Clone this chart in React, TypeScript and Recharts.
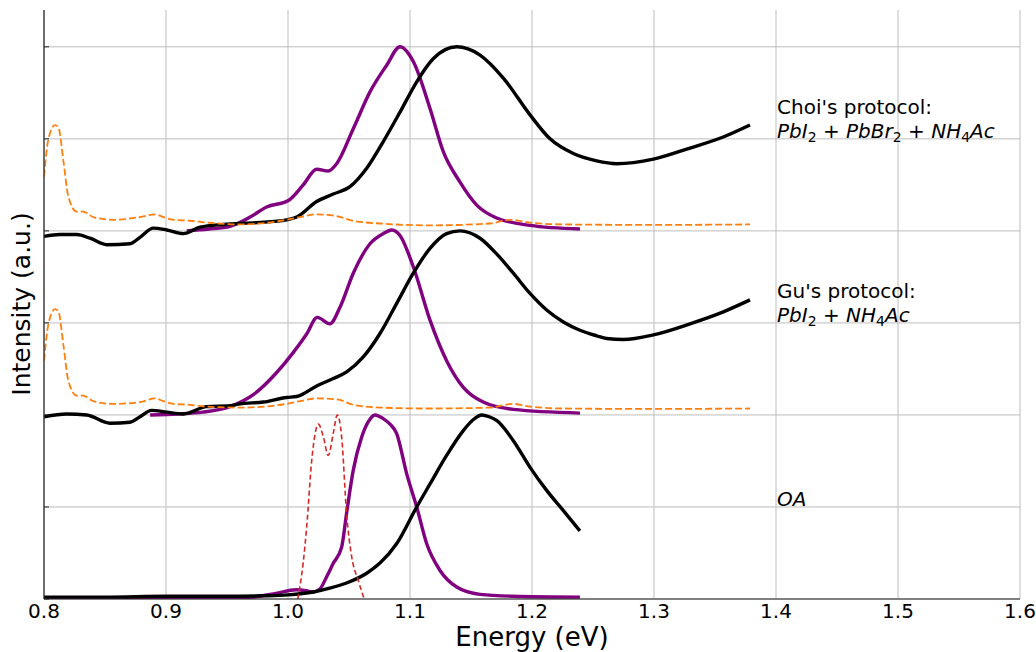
import React from 'react';
import { LineChart, Line, XAxis, YAxis, CartesianGrid } from 'recharts';

const X_TICKS = [0.8, 0.9, 1.0, 1.1, 1.2, 1.3, 1.4, 1.5, 1.6];
const Y_TICKS = [0, 1, 2, 3, 4, 5, 6];

// OA sample (offset 0)
const OA_ABS: [number, number][] = [
  [0.8, 0.02], [0.85, 0.02], [0.9, 0.03], [0.95, 0.03], [0.98, 0.035], [1.0, 0.045],
  [1.0207, 0.076], [1.035, 0.12], [1.048, 0.174], [1.0645, 0.28], [1.0754, 0.39],
  [1.089, 0.6], [1.1055, 1.0], [1.1164, 1.25], [1.13, 1.56], [1.1437, 1.83],
  [1.152, 1.95], [1.1588, 2.0], [1.165, 1.98], [1.171, 1.94], [1.1847, 1.72],
  [1.1984, 1.43], [1.212, 1.18], [1.2257, 0.96], [1.2393, 0.74],
];
const OA_PL: [number, number][] = [
  [0.8, 0.0], [0.9, 0.005], [0.95, 0.01], [0.97, 0.02], [0.99, 0.06], [1.0066, 0.1],
  [1.015, 0.09], [1.0207, 0.076], [1.0262, 0.11], [1.032, 0.25], [1.037, 0.385],
  [1.044, 0.565], [1.048, 0.93], [1.0535, 1.4], [1.0604, 1.76], [1.066, 1.93],
  [1.0713, 2.0], [1.078, 1.96], [1.0836, 1.9], [1.089, 1.8], [1.0973, 1.36],
  [1.1055, 1.0], [1.1137, 0.6], [1.1246, 0.31], [1.1383, 0.13], [1.1574, 0.05],
  [1.1844, 0.03], [1.2393, 0.02],
];
const OA_RED: [number, number][] = [
  [1.008, 0], [1.0125, 0.4], [1.0153, 0.78], [1.0194, 1.5], [1.0249, 1.9], [1.029, 1.76],
  [1.033, 1.56], [1.0371, 1.8], [1.0404, 2.0], [1.044, 1.76], [1.048, 0.93],
  [1.0522, 0.46], [1.0576, 0.2], [1.0625, 0],
];

// Gu's protocol (offset 2)
const GU_ABS: [number, number][] = [
  [0.8, 1.98], [0.8186, 2.01], [0.835, 2.0], [0.8541, 1.91], [0.8705, 1.92], [0.8787, 1.98],
  [0.8883, 2.05], [0.9006, 2.03], [0.9142, 2.01], [0.9333, 2.09], [0.9525, 2.1],
  [0.9607, 2.12], [0.9798, 2.14], [0.9989, 2.19], [1.0071, 2.2], [1.0235, 2.315],
  [1.0371, 2.395], [1.0481, 2.467], [1.0617, 2.63], [1.0754, 2.885], [1.089, 3.21],
  [1.1027, 3.54], [1.1164, 3.81], [1.13, 3.97], [1.141, 4.0], [1.1574, 3.92],
  [1.171, 3.75], [1.1847, 3.54], [1.1984, 3.32], [1.212, 3.14], [1.2257, 3.01],
  [1.2393, 2.92], [1.253, 2.86], [1.2612, 2.83], [1.2748, 2.82], [1.2995, 2.87],
  [1.3295, 2.99], [1.3568, 3.12], [1.3787, 3.25],
];
const GU_PL: [number, number][] = [
  [0.887, 2.0], [0.91, 2.01], [0.93, 2.03], [0.9525, 2.09], [0.9716, 2.22], [0.99, 2.45],
  [1.0044, 2.68], [1.0153, 2.88], [1.024, 3.06], [1.0344, 2.99], [1.0426, 3.17],
  [1.0535, 3.54], [1.0672, 3.86], [1.078, 3.97], [1.085, 4.01], [1.0918, 3.95],
  [1.1027, 3.61], [1.1164, 3.03], [1.13, 2.59], [1.1437, 2.3], [1.16, 2.14],
  [1.1847, 2.06], [1.2393, 2.02],
];
const GU_ORANGE: [number, number][] = [
  [0.8, 2.59], [0.8035, 2.98], [0.809, 3.15], [0.8117, 3.13], [0.8158, 2.77], [0.82, 2.37],
  [0.8268, 2.21], [0.8322, 2.21], [0.8404, 2.15], [0.8568, 2.12], [0.8787, 2.14],
  [0.891, 2.18], [0.8978, 2.15], [0.906, 2.12], [0.9197, 2.11], [0.9334, 2.09],
  [0.9607, 2.08], [0.9989, 2.12], [1.0098, 2.15], [1.0235, 2.18], [1.04, 2.17],
  [1.0535, 2.11], [1.0754, 2.08], [1.1164, 2.07], [1.1656, 2.08], [1.1847, 2.12],
  [1.1984, 2.09], [1.2257, 2.07], [1.3, 2.065], [1.3787, 2.07],
];

// Choi's protocol (offset 4)
const CHOI_ABS: [number, number][] = [
  [0.8, 3.94], [0.8131, 3.96], [0.8268, 3.96], [0.8377, 3.92], [0.8514, 3.85], [0.8705, 3.86],
  [0.8787, 3.93], [0.8896, 4.03], [0.9006, 4.01], [0.9142, 3.97], [0.9279, 4.04],
  [0.947, 4.07], [0.9743, 4.09], [0.9989, 4.12], [1.0071, 4.15], [1.0235, 4.32],
  [1.0371, 4.4], [1.0508, 4.48], [1.0645, 4.68], [1.0781, 4.97], [1.0918, 5.29],
  [1.1055, 5.62], [1.119, 5.87], [1.1383, 6.0], [1.1574, 5.91], [1.1765, 5.66],
  [1.1984, 5.26], [1.2148, 5.0], [1.2339, 4.84], [1.253, 4.76], [1.2694, 4.73],
  [1.2995, 4.78], [1.3295, 4.9], [1.3568, 5.02], [1.3787, 5.15],
];
const CHOI_PL: [number, number][] = [
  [0.917, 4.0], [0.935, 4.02], [0.9525, 4.05], [0.9689, 4.15], [0.9825, 4.26], [1.0003, 4.33],
  [1.0125, 4.5], [1.0235, 4.67], [1.033, 4.65], [1.0399, 4.73], [1.0535, 5.11],
  [1.0672, 5.51], [1.0809, 5.8], [1.0918, 6.0], [1.1027, 5.84], [1.1164, 5.33],
  [1.1273, 4.86], [1.141, 4.53], [1.1547, 4.28], [1.171, 4.14], [1.1984, 4.06],
  [1.2393, 4.02],
];
const CHOI_ORANGE: [number, number][] = [
  [0.8, 4.59], [0.8035, 4.99], [0.809, 5.15], [0.8117, 5.13], [0.8158, 4.77], [0.82, 4.37],
  [0.8268, 4.21], [0.8322, 4.21], [0.8404, 4.15], [0.8568, 4.12], [0.8787, 4.15],
  [0.891, 4.18], [0.8978, 4.15], [0.906, 4.12], [0.9197, 4.11], [0.9334, 4.09],
  [0.9607, 4.07], [0.9989, 4.12], [1.0098, 4.15], [1.0235, 4.18], [1.04, 4.16],
  [1.0535, 4.11], [1.0754, 4.08], [1.1164, 4.06], [1.1656, 4.08], [1.182, 4.12],
  [1.1984, 4.09], [1.2257, 4.07], [1.3, 4.065], [1.3787, 4.07],
];

const toPts = (arr: [number, number][]) => arr.map(([x, y]) => ({ x, y }));

const FONT = 'DejaVu Sans';
const BLACK_W = 3.4;
const PURPLE_W = 3.4;

const EmptyTick = () => <g />;

export default function App() {
  const sub = { fontSize: 14 };
  return (
    <div style={{ position: 'absolute', left: 0, top: 0, width: 1036, height: 652, background: '#fff', fontFamily: FONT }}>
      <LineChart width={1036} height={652} margin={{ top: 10, right: 16, bottom: 0, left: 0 }}>
        <CartesianGrid stroke="#bdbdbd" strokeWidth={1} horizontalValues={Y_TICKS} verticalValues={X_TICKS} />
        <XAxis
          dataKey="x"
          type="number"
          domain={[0.8, 1.6]}
          ticks={X_TICKS}
          allowDataOverflow
          height={53}
          tickLine={false}
          tickSize={5}
          tickMargin={0}
          axisLine={{ stroke: '#222', strokeWidth: 1.2 }}
          tick={{ fontSize: 20, fill: '#000', fontFamily: FONT }}
          tickFormatter={(v: number) => v.toFixed(1)}
        />
        <XAxis
          xAxisId="top"
          orientation="top"
          type="number"
          domain={[0.8, 1.6]}
          height={0}
          tick={false}
          tickLine={false}
          axisLine={{ stroke: '#222', strokeWidth: 1.2 }}
        />
        <YAxis
          type="number"
          domain={[0, 6.4]}
          ticks={Y_TICKS}
          width={44}
          allowDataOverflow
          tick={EmptyTick}
          tickSize={-5}
          tickLine={{ stroke: '#222' }}
          axisLine={{ stroke: '#222', strokeWidth: 1.2 }}
        />
        <YAxis
          yAxisId="right"
          orientation="right"
          type="number"
          domain={[0, 6.4]}
          width={0}
          tick={false}
          tickLine={false}
          axisLine={{ stroke: '#222', strokeWidth: 1.2 }}
        />
        <Line data={toPts(OA_PL)} dataKey="y" type="monotone" stroke="#800080" strokeWidth={PURPLE_W} dot={false} isAnimationActive={false} />
        <Line data={toPts(GU_PL)} dataKey="y" type="monotone" stroke="#800080" strokeWidth={PURPLE_W} dot={false} isAnimationActive={false} />
        <Line data={toPts(CHOI_PL)} dataKey="y" type="monotone" stroke="#800080" strokeWidth={PURPLE_W} dot={false} isAnimationActive={false} />
        <Line data={toPts(OA_ABS)} dataKey="y" type="monotone" stroke="#000" strokeWidth={BLACK_W} dot={false} isAnimationActive={false} />
        <Line data={toPts(GU_ABS)} dataKey="y" type="monotone" stroke="#000" strokeWidth={BLACK_W} dot={false} isAnimationActive={false} />
        <Line data={toPts(CHOI_ABS)} dataKey="y" type="monotone" stroke="#000" strokeWidth={BLACK_W} dot={false} isAnimationActive={false} />
        <Line data={toPts(GU_ORANGE)} dataKey="y" type="monotone" stroke="#ff7f0e" strokeWidth={1.8} strokeDasharray="7 3" dot={false} isAnimationActive={false} />
        <Line data={toPts(CHOI_ORANGE)} dataKey="y" type="monotone" stroke="#ff7f0e" strokeWidth={1.8} strokeDasharray="7 3" dot={false} isAnimationActive={false} />
        <Line data={toPts(OA_RED)} dataKey="y" type="monotone" stroke="#d62728" strokeWidth={1.6} strokeDasharray="5 3" dot={false} isAnimationActive={false} />
      </LineChart>
      <svg width={1036} height={652} style={{ position: 'absolute', left: 0, top: 0, pointerEvents: 'none' }} fontFamily={FONT}>
        <text x={30} y={304} transform="rotate(-90 30 304)" textAnchor="middle" fontSize={25} fill="#000">Intensity (a.u.)</text>
        <text x={532} y={646} textAnchor="middle" fontSize={26} fill="#000">Energy (eV)</text>
        <text x={777} y={114} fontSize={20} fill="#000">Choi's protocol:</text>
        <text x={777} y={138} fontSize={20} fill="#000" style={{ whiteSpace: 'pre' }}>
          <tspan fontStyle="italic">PbI</tspan>
          <tspan style={sub} dy={4}>2</tspan>
          <tspan dy={-4}>{' + '}</tspan>
          <tspan fontStyle="italic">PbBr</tspan>
          <tspan style={sub} dy={4}>2</tspan>
          <tspan dy={-4}>{' + '}</tspan>
          <tspan fontStyle="italic">NH</tspan>
          <tspan style={sub} dy={4}>4</tspan>
          <tspan dy={-4} fontStyle="italic">Ac</tspan>
        </text>
        <text x={777} y={298} fontSize={20} fill="#000">Gu's protocol:</text>
        <text x={777} y={322} fontSize={20} fill="#000" style={{ whiteSpace: 'pre' }}>
          <tspan fontStyle="italic">PbI</tspan>
          <tspan style={sub} dy={4}>2</tspan>
          <tspan dy={-4}>{' + '}</tspan>
          <tspan fontStyle="italic">NH</tspan>
          <tspan style={sub} dy={4}>4</tspan>
          <tspan dy={-4} fontStyle="italic">Ac</tspan>
        </text>
        <text x={777} y={506} fontSize={20} fill="#000" fontStyle="italic">OA</text>
      </svg>
    </div>
  );
}
